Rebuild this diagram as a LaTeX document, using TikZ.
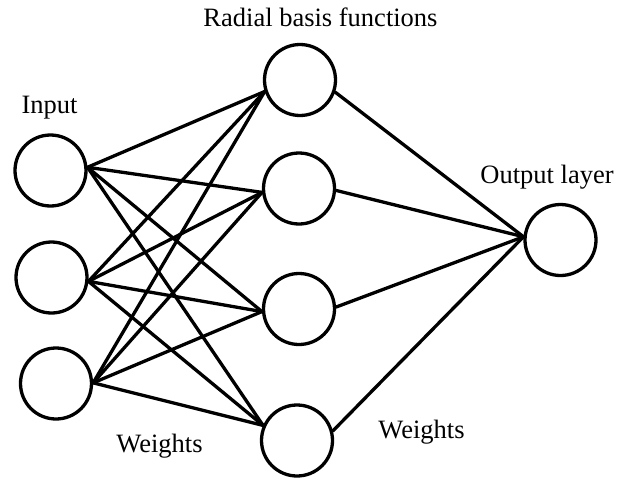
\documentclass[tikz,border=0pt]{standalone}
\usepackage{fontspec}
\setmainfont{Liberation Serif}
\begin{document}
\begin{tikzpicture}[x=1pt,y=-1pt,
  neuron/.style={circle,draw=black,line width=3.3pt,minimum size=71pt,inner sep=0pt},
  conn/.style={line width=3.3pt,line cap=round},
  lbl/.style={anchor=base,inner sep=0pt,font=\fontsize{26.5}{31}\selectfont}]
\useasboundingbox (0,0) rectangle (618,479);
% input layer
\node[neuron] (i1) at (50.5,170.5) {};
\node[neuron] (i2) at (51.5,277.5) {};
\node[neuron] (i3) at (56,383.5) {};
% hidden layer
\node[neuron] (h1) at (300,80) {};
\node[neuron] (h2) at (299,188.5) {};
\node[neuron] (h3) at (299,309) {};
\node[neuron] (h4) at (297,440.5) {};
% output
\node[neuron] (o) at (560.5,240) {};
% connection points
\coordinate (i1e) at (i1.5);
\coordinate (i2e) at (i2.-6);
\coordinate (i3e) at (i3.1);
\coordinate (h1w) at (h1.198);
\coordinate (h2w) at (h2.186);
\coordinate (h3w) at (h3.184);
\coordinate (h4w) at (h4.156);
\coordinate (h1e) at (h1.-19);
\coordinate (h2e) at (h2.-3);
\coordinate (h3e) at (h3.3);
\coordinate (h4e) at (h4.15);
\coordinate (ow) at (o.175);
\foreach \a in {i1e,i2e,i3e}{
  \foreach \b in {h1w,h2w,h3w,h4w}{
    \draw[conn] (\a) -- (\b);
  }
}
\foreach \b in {h1e,h2e,h3e,h4e}{
  \draw[conn] (\b) -- (ow);
}
% labels
\node[lbl] (tr) at (320.5,27) {Radial basis functions};
\node[lbl] (ti) at (49.5,113) {Input};
\node[lbl] (to) at (547,183) {Output layer};
\node[lbl] (tw1) at (159.5,452) {Weights};
\node[lbl] (tw2) at (421.5,438) {Weights};
\end{tikzpicture}
\end{document}
